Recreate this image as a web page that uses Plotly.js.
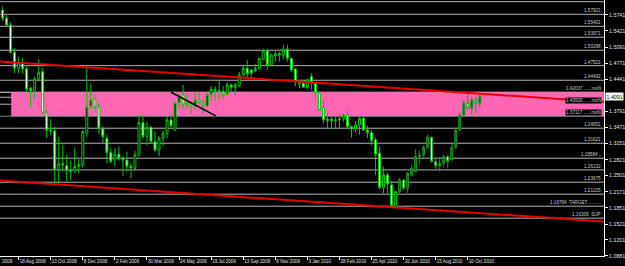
<!DOCTYPE html>
<html><head><meta charset="utf-8">
<script src="https://cdn.plot.ly/plotly-3.0.1.min.js"></script>
<style>html,body{margin:0;padding:0;background:#000;}#chart{width:625px;height:266px;}</style>
</head><body><div id="chart"></div>
<script>
// Weekly bars (week start dates)
const weeks = [
'2008-07-14','2008-07-21','2008-07-28','2008-08-04','2008-08-11','2008-08-18','2008-08-25','2008-09-01','2008-09-08','2008-09-15','2008-09-22','2008-09-29','2008-10-06','2008-10-13','2008-10-20','2008-10-27','2008-11-03','2008-11-10','2008-11-17','2008-11-24','2008-12-01','2008-12-08','2008-12-15','2008-12-22','2008-12-29',
'2009-01-05','2009-01-12','2009-01-19','2009-01-26','2009-02-02','2009-02-09','2009-02-16','2009-02-23','2009-03-02','2009-03-09','2009-03-16','2009-03-23','2009-03-30','2009-04-06','2009-04-13','2009-04-20','2009-04-27','2009-05-04','2009-05-11','2009-05-18','2009-05-25','2009-06-01','2009-06-08','2009-06-15','2009-06-22','2009-06-29','2009-07-06','2009-07-13','2009-07-20','2009-07-27','2009-08-03','2009-08-10','2009-08-17','2009-08-24','2009-08-31','2009-09-07','2009-09-14','2009-09-21','2009-09-28','2009-10-05','2009-10-12','2009-10-19','2009-10-26','2009-11-02','2009-11-09','2009-11-16','2009-11-23','2009-11-30','2009-12-07','2009-12-14','2009-12-21','2009-12-28',
'2010-01-04','2010-01-11','2010-01-18','2010-01-25','2010-02-01','2010-02-08','2010-02-15','2010-02-22','2010-03-01','2010-03-08','2010-03-15','2010-03-22','2010-03-29','2010-04-05','2010-04-12','2010-04-19','2010-04-26','2010-05-03','2010-05-10','2010-05-17','2010-05-24','2010-05-31','2010-06-07','2010-06-14','2010-06-21','2010-06-28','2010-07-05','2010-07-12','2010-07-19','2010-07-26','2010-08-02','2010-08-09','2010-08-16','2010-08-23','2010-08-30','2010-09-06','2010-09-13','2010-09-20','2010-09-27','2010-10-04','2010-10-11','2010-10-18','2010-10-25','2010-11-01'];

const open = [1.5740,1.5841,1.5674,1.5539,1.4988,1.4666,1.4770,1.4652,1.4262,1.4214,1.4450,1.4597,1.3765,1.3420,1.3401,1.2620,1.2740,1.2702,1.2601,1.2601,1.2682,1.2716,1.3356,1.3906,1.4040,
1.3880,1.3456,1.3254,1.2964,1.2816,1.2931,1.2850,1.2816,1.2690,1.2649,1.2917,1.3569,1.3286,1.3476,1.3185,1.3018,1.3254,1.3354,1.3623,1.3421,1.3972,1.4127,1.3940,1.3970,1.3906,1.4026,1.3966,1.3905,1.4141,1.4242,1.4215,1.4190,1.4147,1.4329,1.4280,1.4309,1.4531,1.4665,1.4631,1.4620,1.4665,1.4847,1.5021,1.4732,1.4920,1.4960,1.4934,1.5049,1.4867,1.4652,1.4349,1.4363,
1.4283,1.4496,1.4363,1.4161,1.3859,1.3640,1.3640,1.3610,1.3623,1.3657,1.3724,1.3488,1.3440,1.3522,1.3657,1.3421,1.3367,1.3220,1.2952,1.2260,1.2514,1.2312,1.1875,1.2177,1.2413,1.2246,1.2514,1.2581,1.2883,1.2917,1.3072,1.3274,1.2782,1.2695,1.2750,1.2883,1.2816,1.3072,1.3421,1.3724,1.3960,1.3859,1.4026,1.3960];
const high = [1.6038,1.5908,1.5741,1.5606,1.5069,1.4900,1.4870,1.4720,1.4300,1.4500,1.4847,1.4680,1.3820,1.3640,1.3480,1.3286,1.3119,1.2931,1.2802,1.3073,1.2830,1.3420,1.4698,1.4363,1.4090,
1.3960,1.3488,1.3321,1.3052,1.3052,1.3085,1.2897,1.2984,1.2750,1.3000,1.3738,1.3738,1.3590,1.3500,1.3390,1.3300,1.3420,1.3700,1.3740,1.3972,1.4150,1.4329,1.4140,1.4000,1.4170,1.4190,1.4040,1.4160,1.4310,1.4300,1.4430,1.4300,1.4390,1.4360,1.4370,1.4590,1.4720,1.4833,1.4640,1.4750,1.4867,1.5060,1.5060,1.4950,1.5035,1.5000,1.5136,1.5136,1.4870,1.4660,1.4430,1.4430,
1.4450,1.4560,1.4370,1.4170,1.4020,1.3759,1.3710,1.3700,1.3730,1.3760,1.3810,1.3510,1.3600,1.3690,1.3700,1.3510,1.3420,1.3270,1.3085,1.2682,1.2560,1.2390,1.2190,1.2450,1.2430,1.2570,1.2720,1.3030,1.3000,1.3110,1.3330,1.3290,1.2883,1.2883,1.2920,1.2917,1.3160,1.3460,1.3790,1.4030,1.4161,1.4093,1.4093,1.4127];
const low = [1.5720,1.5626,1.5519,1.4968,1.4565,1.4560,1.4560,1.4190,1.3865,1.4060,1.4420,1.3740,1.3260,1.3321,1.2347,1.2330,1.2590,1.2379,1.2413,1.2549,1.2548,1.2660,1.3280,1.3825,1.3800,
1.3350,1.3153,1.2750,1.2750,1.2686,1.2800,1.2494,1.2580,1.2447,1.2600,1.2880,1.3250,1.3110,1.3150,1.2980,1.2890,1.3100,1.3250,1.3470,1.3400,1.3850,1.3825,1.3840,1.3750,1.3830,1.3950,1.3750,1.3890,1.4010,1.4000,1.4026,1.4050,1.4100,1.4190,1.4120,1.4290,1.4500,1.4484,1.4484,1.4590,1.4640,1.4830,1.4630,1.4700,1.4799,1.4800,1.4850,1.4799,1.4590,1.4300,1.4263,1.4290,
1.4250,1.4230,1.4030,1.3800,1.3556,1.3456,1.3440,1.3440,1.3460,1.3590,1.3450,1.3270,1.3380,1.3320,1.3400,1.3260,1.3119,1.2514,1.2230,1.2145,1.2140,1.1880,1.1860,1.2150,1.2200,1.2150,1.2500,1.2570,1.2720,1.2870,1.3040,1.2760,1.2615,1.2585,1.2660,1.2649,1.2800,1.3030,1.3400,1.3680,1.3830,1.3724,1.3760,1.3859];
const close = [1.5850,1.5674,1.5539,1.4988,1.4666,1.4770,1.4652,1.4242,1.4214,1.4450,1.4577,1.3758,1.3420,1.3400,1.2620,1.2736,1.2716,1.2601,1.2581,1.2682,1.2730,1.3388,1.3891,1.4026,1.3880,
1.3456,1.3286,1.2964,1.2782,1.2931,1.2850,1.2816,1.2682,1.2655,1.2917,1.3569,1.3286,1.3476,1.3185,1.3018,1.3254,1.3354,1.3623,1.3502,1.3972,1.4107,1.3925,1.3970,1.3905,1.4026,1.3966,1.3905,1.4141,1.4242,1.4215,1.4190,1.4127,1.4329,1.4280,1.4330,1.4531,1.4665,1.4551,1.4565,1.4665,1.4867,1.5021,1.4732,1.4934,1.4954,1.4934,1.5049,1.4867,1.4631,1.4396,1.4396,1.4283,
1.4430,1.4375,1.4161,1.3825,1.3623,1.3610,1.3610,1.3623,1.3640,1.3724,1.3488,1.3440,1.3522,1.3657,1.3421,1.3367,1.3206,1.2931,1.2260,1.2514,1.2332,1.1890,1.2177,1.2413,1.2246,1.2548,1.2649,1.2883,1.2917,1.3072,1.3274,1.2782,1.2695,1.2750,1.2883,1.2782,1.3072,1.3421,1.3724,1.3960,1.3859,1.4026,1.3960,1.4093];

// Axis ticks
const dateTickVals = ['2008-08-18','2008-10-13','2008-12-08','2009-02-02','2009-03-30','2009-05-25','2009-07-20','2009-09-14','2009-11-09','2010-01-04','2010-03-01','2010-04-26','2010-06-21','2010-08-16','2010-10-11'];
const dateTickText = ['18 Aug 2008','13 Oct 2008','8 Dec 2008','2 Feb 2009','30 Mar 2009','24 May 2009','19 Jul 2009','13 Sep 2009','8 Nov 2009','3 Jan 2010','28 Feb 2010','25 Apr 2010','20 Jun 2010','15 Aug 2010','10 Oct 2010'];
const priceTicks = [1.5741,1.5421,1.5091,1.4771,1.4441,1.3791,1.3471,1.3151,1.2821,1.2501,1.2171,1.1851,1.1521,1.1201,1.0881];
const xRange = ['2008-07-16 11:00','2011-06-05 18:00'];
const yRange = [1.0878, 1.6043];

// Horizontal price levels and their labels
const levelPrices = [1.6009,1.5755,1.5513,1.5291,1.5029,1.4718,1.4424,1.4182,1.4081,1.3940,1.3698,1.3456,1.3153,1.2851,1.2615,1.2367,1.2125,1.1883,1.1641];
const levelLabels = ['','1.57921','1.55401','1.53971','1.50298','1.47521','1.44492','1.42037 ......moN','','1.40520 ......moN','1.37117 ......moN','1.34651','1.31621','1.28584 ..','1.26132','1.23675','1.21215','1.18784  TARGET...........','1.16309  SUP'];

// Zone and trend lines
const zoneStart = '2008-08-05', zoneTop = 1.4182, zoneBottom = 1.3698;
const upperX = ['2008-07-16 11:00','2011-06-05 18:00'], upperY = [1.4803, 1.3986];
const lowerX = ['2008-07-16 11:00','2011-06-05 18:00'], lowerY = [1.2399, 1.1572];
const shortX = ['2009-05-11','2009-07-28'], shortY = [1.4182, 1.3704];
const currentPrice = 1.4091;
const recentStart = 100; // index from which bars are drawn in the darker colour scheme

const FONT = 'Liberation Sans, Arial, sans-serif';

function candle(i0, i1, upLine, upFill, dnLine) {
  return {type:'candlestick', x:weeks.slice(i0,i1), open:open.slice(i0,i1), high:high.slice(i0,i1),
    low:low.slice(i0,i1), close:close.slice(i0,i1),
    increasing:{line:{color:upLine, width:1}, fillcolor:upFill},
    decreasing:{line:{color:dnLine, width:1}, fillcolor:'#ffffff'},
    whiskerwidth:0, hoverinfo:'none', showlegend:false};
}

const traces = [
  candle(0, recentStart, '#00c800', '#000000', '#00c800'),
  candle(recentStart, weeks.length, '#1c9a1c', '#175a17', '#1c9a1c'),
  {type:'scatter', mode:'lines', x:upperX, y:upperY, line:{color:'#e80000', width:2}, hoverinfo:'none', showlegend:false},
  {type:'scatter', mode:'lines', x:lowerX, y:lowerY, line:{color:'#e80000', width:2}, hoverinfo:'none', showlegend:false},
  {type:'scatter', mode:'lines', x:shortX, y:shortY, line:{color:'#000000', width:1.5}, hoverinfo:'none', showlegend:false}
];

const shapes = [{type:'rect', xref:'x', yref:'y', x0:zoneStart, x1:xRange[1], y0:zoneBottom, y1:zoneTop,
  fillcolor:'#ff66b4', line:{width:0}, layer:'below'}];
levelPrices.forEach((p,i)=>{
  let c = '#b4b4b4';
  if (p === zoneBottom) c = '#5e8f80';
  if (p === zoneTop) c = '#e0e0e0';
  shapes.push({type:'line', xref:'paper', x0:0, x1:1, yref:'y', y0:p, y1:p, line:{color:c, width:1}, layer:'below'});
});

const annotations = [];
levelPrices.forEach((p,i)=>{
  if (!levelLabels[i]) return;
  const inZone = p >= zoneBottom && p < zoneTop;
  annotations.push({xref:'paper', x:601.5/604, xanchor:'right', yref:'y', y:p, yanchor:'bottom', yshift:0,
    text:levelLabels[i], showarrow:false, borderpad:0, bgcolor: inZone ? '#000000' : 'rgba(0,0,0,0)',
    font:{family:FONT, size:4.6, color:'#c8c8c8'}});
});
annotations.push({xref:'paper', x:1, xanchor:'left', xshift:1, yref:'y', y:currentPrice, yanchor:'middle',
  text:currentPrice.toFixed(4), showarrow:false, bgcolor:'#ffffff', borderpad:0.5, font:{family:FONT, size:5.3, color:'#000000'}});
annotations.push({xref:'paper', x:0.002, xanchor:'left', yref:'paper', y:0, yanchor:'top', yshift:-2,
  text:'2008', showarrow:false, borderpad:0, font:{family:FONT, size:4.6, color:'#e0e0e0'}});

const layout = {
  width:625, height:266,
  margin:{l:0, r:21, t:0, b:10, pad:0},
  paper_bgcolor:'#000000', plot_bgcolor:'#000000',
  showlegend:false,
  font:{family:FONT, color:'#e0e0e0'},
  xaxis:{type:'date', range:xRange, tickvals:dateTickVals, ticktext:dateTickText, tickangle:0,
    ticks:'outside', ticklen:3, tickcolor:'#ffffff', tickwidth:1, showline:true, linecolor:'#ffffff', linewidth:1,
    showgrid:false, zeroline:false, ticklabelposition:'outside right', ticklabelstandoff:0,
    tickfont:{family:FONT, size:4.6, color:'#e0e0e0'}, rangeslider:{visible:false}, automargin:false, fixedrange:true},
  yaxis:{side:'right', range:yRange, tickvals:priceTicks, ticktext:priceTicks.map(v=>v.toFixed(4)),
    ticks:'outside', ticklen:3, tickcolor:'#ffffff', tickwidth:1, showline:true, linecolor:'#ffffff', linewidth:1,
    showgrid:false, zeroline:false, ticklabelstandoff:0,
    tickfont:{family:FONT, size:5.3, color:'#e0e0e0'}, automargin:false, fixedrange:true},
  shapes:shapes, annotations:annotations
};

Plotly.newPlot('chart', traces, layout, {staticPlot:true, displayModeBar:false});
</script></body></html>
